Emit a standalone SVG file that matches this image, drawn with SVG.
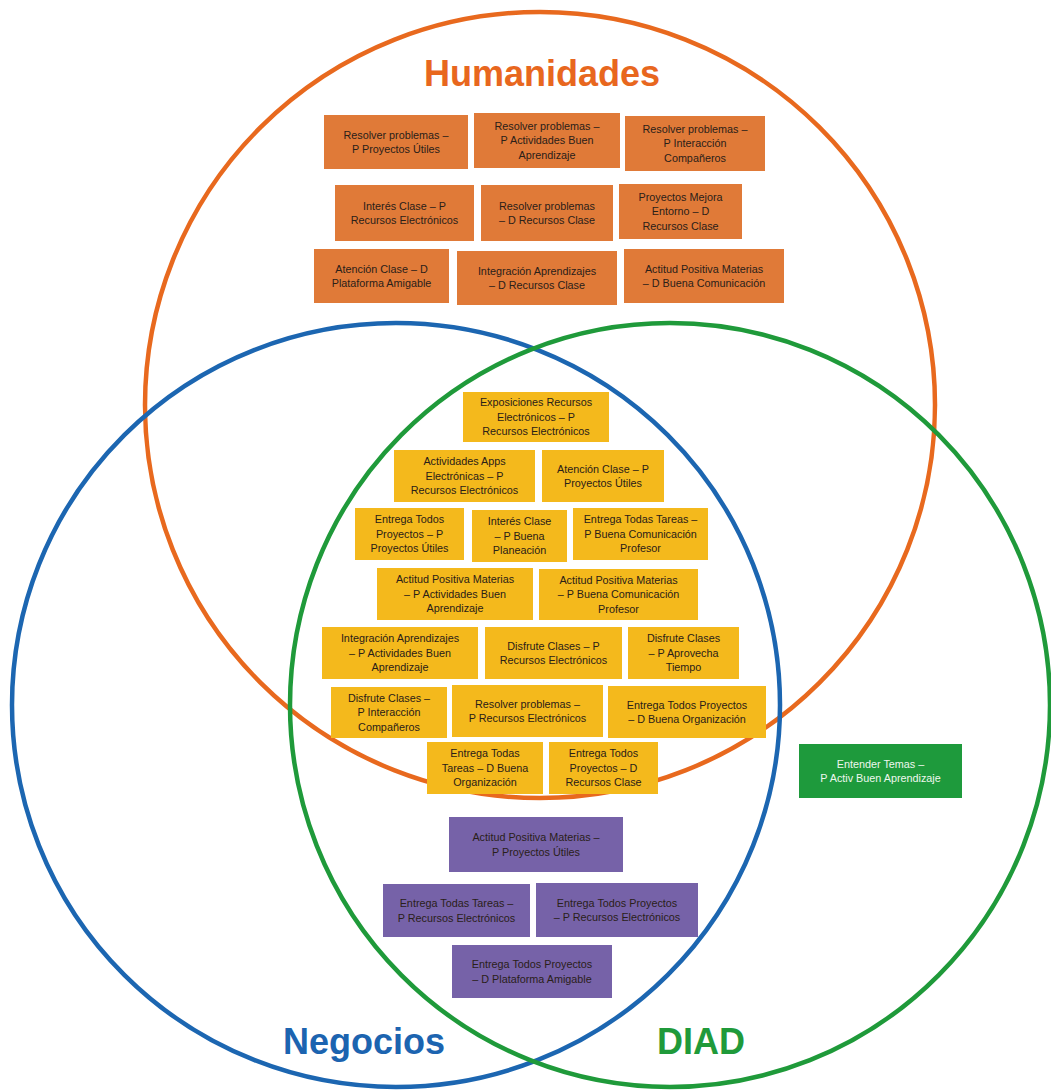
<svg xmlns="http://www.w3.org/2000/svg" width="1051" height="1090" viewBox="0 0 1051 1090">
<style>
.c{fill:none;stroke-width:4.5}
.t{font-family:"Liberation Sans",Arial,sans-serif;font-size:10.8px;text-anchor:middle;fill:#2a2018}
.tw{fill:#eef7ee}
.o{fill:#E07A38}
.y{fill:#F4B91C}
.p{fill:#7662A8}
.g{fill:#1E9A3C}
.title{font-family:"Liberation Sans",Arial,sans-serif;font-size:36px;font-weight:bold;text-anchor:middle}
</style>
<rect width="1051" height="1090" fill="#ffffff"/>
<g id="circles">
<ellipse id="humanidades-circle" class="c" cx="540" cy="405" rx="395" ry="393" stroke="#E8691E"/>
<ellipse id="negocios-circle" class="c" cx="396" cy="705" rx="384" ry="382" stroke="#1C66B1"/>
<ellipse id="diad-circle" class="c" cx="670" cy="705" rx="380" ry="382" stroke="#1F9A3A"/>
</g>
<text class="title" x="542" y="86" fill="#E8671E">Humanidades</text>
<text class="title" x="364" y="1054" fill="#1C64B0">Negocios</text>
<text class="title" x="701" y="1054" fill="#1F9A3A">DIAD</text>

<g id="o1"><rect class="o" x="324" y="115" width="144" height="54"/><text class="t"><tspan x="396" y="138.5">Resolver problemas –</tspan><tspan x="396" y="153">P Proyectos Útiles</tspan></text></g>
<g id="o2"><rect class="o" x="474" y="113" width="146" height="55"/><text class="t"><tspan x="547" y="129.8">Resolver problemas –</tspan><tspan x="547" y="144.3">P Actividades Buen</tspan><tspan x="547" y="158.8">Aprendizaje</tspan></text></g>
<g id="o3"><rect class="o" x="625" y="116" width="140" height="55"/><text class="t"><tspan x="695" y="132.8">Resolver problemas –</tspan><tspan x="695" y="147.3">P Interacción</tspan><tspan x="695" y="161.8">Compañeros</tspan></text></g>
<g id="o4"><rect class="o" x="335" y="185" width="139" height="56"/><text class="t"><tspan x="404.5" y="209.5">Interés Clase – P</tspan><tspan x="404.5" y="224">Recursos Electrónicos</tspan></text></g>
<g id="o5"><rect class="o" x="481" y="185" width="132" height="56"/><text class="t"><tspan x="547" y="209.5">Resolver problemas</tspan><tspan x="547" y="224">–  D Recursos Clase</tspan></text></g>
<g id="o6"><rect class="o" x="619" y="184" width="123" height="55"/><text class="t"><tspan x="680.5" y="200.8">Proyectos Mejora</tspan><tspan x="680.5" y="215.3">Entorno –  D</tspan><tspan x="680.5" y="229.8">Recursos Clase</tspan></text></g>
<g id="o7"><rect class="o" x="314" y="249" width="135" height="54"/><text class="t"><tspan x="381.5" y="272.5">Atención Clase – D</tspan><tspan x="381.5" y="287">Plataforma Amigable</tspan></text></g>
<g id="o8"><rect class="o" x="457" y="251" width="160" height="54"/><text class="t"><tspan x="537" y="274.5">Integración Aprendizajes</tspan><tspan x="537" y="289">– D Recursos Clase</tspan></text></g>
<g id="o9"><rect class="o" x="624" y="249" width="160" height="54"/><text class="t"><tspan x="704" y="272.5">Actitud Positiva Materias</tspan><tspan x="704" y="287">– D Buena Comunicación</tspan></text></g>

<g id="y1"><rect class="y" x="463" y="392" width="146" height="50"/><text class="t"><tspan x="536" y="406.3">Exposiciones Recursos</tspan><tspan x="536" y="420.8">Electrónicos – P</tspan><tspan x="536" y="435.3">Recursos Electrónicos</tspan></text></g>
<g id="y2"><rect class="y" x="394" y="450" width="141" height="52"/><text class="t"><tspan x="464.5" y="465.3">Actividades Apps</tspan><tspan x="464.5" y="479.8">Electrónicas – P</tspan><tspan x="464.5" y="494.3">Recursos Electrónicos</tspan></text></g>
<g id="y3"><rect class="y" x="542" y="450" width="122" height="52"/><text class="t"><tspan x="603" y="472.5">Atención Clase – P</tspan><tspan x="603" y="487">Proyectos Útiles</tspan></text></g>
<g id="y4"><rect class="y" x="355" y="508" width="109" height="52"/><text class="t"><tspan x="409.5" y="523.3">Entrega Todos</tspan><tspan x="409.5" y="537.8">Proyectos – P</tspan><tspan x="409.5" y="552.3">Proyectos Útiles</tspan></text></g>
<g id="y5"><rect class="y" x="472" y="510" width="95" height="52"/><text class="t"><tspan x="519.5" y="525.3">Interés Clase</tspan><tspan x="519.5" y="539.8">– P Buena</tspan><tspan x="519.5" y="554.3">Planeación</tspan></text></g>
<g id="y6"><rect class="y" x="573" y="508" width="135" height="52"/><text class="t"><tspan x="640.5" y="523.3">Entrega Todas Tareas –</tspan><tspan x="640.5" y="537.8">P Buena Comunicación</tspan><tspan x="640.5" y="552.3">Profesor</tspan></text></g>
<g id="y7"><rect class="y" x="377" y="568" width="156" height="52"/><text class="t"><tspan x="455" y="583.3">Actitud Positiva Materias</tspan><tspan x="455" y="597.8">– P Actividades Buen</tspan><tspan x="455" y="612.3">Aprendizaje</tspan></text></g>
<g id="y8"><rect class="y" x="539" y="569" width="159" height="51"/><text class="t"><tspan x="618.5" y="583.8">Actitud Positiva Materias</tspan><tspan x="618.5" y="598.3">– P Buena Comunicación</tspan><tspan x="618.5" y="612.8">Profesor</tspan></text></g>
<g id="y9"><rect class="y" x="322" y="627" width="156" height="52"/><text class="t"><tspan x="400" y="642.3">Integración Aprendizajes</tspan><tspan x="400" y="656.8">– P Actividades Buen</tspan><tspan x="400" y="671.3">Aprendizaje</tspan></text></g>
<g id="y10"><rect class="y" x="485" y="627" width="137" height="52"/><text class="t"><tspan x="553.5" y="649.5">Disfrute Clases – P</tspan><tspan x="553.5" y="664">Recursos Electrónicos</tspan></text></g>
<g id="y11"><rect class="y" x="628" y="627" width="111" height="52"/><text class="t"><tspan x="683.5" y="642.3">Disfrute Clases</tspan><tspan x="683.5" y="656.8">– P Aprovecha</tspan><tspan x="683.5" y="671.3">Tiempo</tspan></text></g>
<g id="y12"><rect class="y" x="331" y="687" width="116" height="51"/><text class="t"><tspan x="389" y="701.8">Disfrute Clases –</tspan><tspan x="389" y="716.3">P Interacción</tspan><tspan x="389" y="730.8">Compañeros</tspan></text></g>
<g id="y13"><rect class="y" x="452" y="685" width="151" height="52"/><text class="t"><tspan x="527.5" y="707.5">Resolver problemas –</tspan><tspan x="527.5" y="722">P Recursos Electrónicos</tspan></text></g>
<g id="y14"><rect class="y" x="608" y="686" width="158" height="52"/><text class="t"><tspan x="687" y="708.5">Entrega Todos Proyectos</tspan><tspan x="687" y="723">– D Buena Organización</tspan></text></g>
<g id="y15"><rect class="y" x="427" y="742" width="116" height="52"/><text class="t"><tspan x="485" y="757.3">Entrega Todas</tspan><tspan x="485" y="771.8">Tareas – D Buena</tspan><tspan x="485" y="786.3">Organización</tspan></text></g>
<g id="y16"><rect class="y" x="549" y="742" width="109" height="52"/><text class="t"><tspan x="603.5" y="757.3">Entrega Todos</tspan><tspan x="603.5" y="771.8">Proyectos – D</tspan><tspan x="603.5" y="786.3">Recursos Clase</tspan></text></g>

<g id="g1"><rect class="g" x="799" y="744" width="163" height="54"/><text class="t tw"><tspan x="880.5" y="767.5">Entender Temas –</tspan><tspan x="880.5" y="782">P Activ Buen Aprendizaje</tspan></text></g>

<g id="p1"><rect class="p" x="449" y="817" width="174" height="55"/><text class="t"><tspan x="536" y="841">Actitud Positiva Materias –</tspan><tspan x="536" y="855.5">P Proyectos Útiles</tspan></text></g>
<g id="p2"><rect class="p" x="383" y="884" width="147" height="53"/><text class="t"><tspan x="456.5" y="907">Entrega Todas Tareas –</tspan><tspan x="456.5" y="921.5">P Recursos Electrónicos</tspan></text></g>
<g id="p3"><rect class="p" x="536" y="883" width="162" height="54"/><text class="t"><tspan x="617" y="906.5">Entrega Todos Proyectos</tspan><tspan x="617" y="921">– P Recursos Electrónicos</tspan></text></g>
<g id="p4"><rect class="p" x="452" y="945" width="160" height="53"/><text class="t"><tspan x="532" y="968">Entrega Todos Proyectos</tspan><tspan x="532" y="982.5">– D Plataforma Amigable</tspan></text></g>
</svg>
